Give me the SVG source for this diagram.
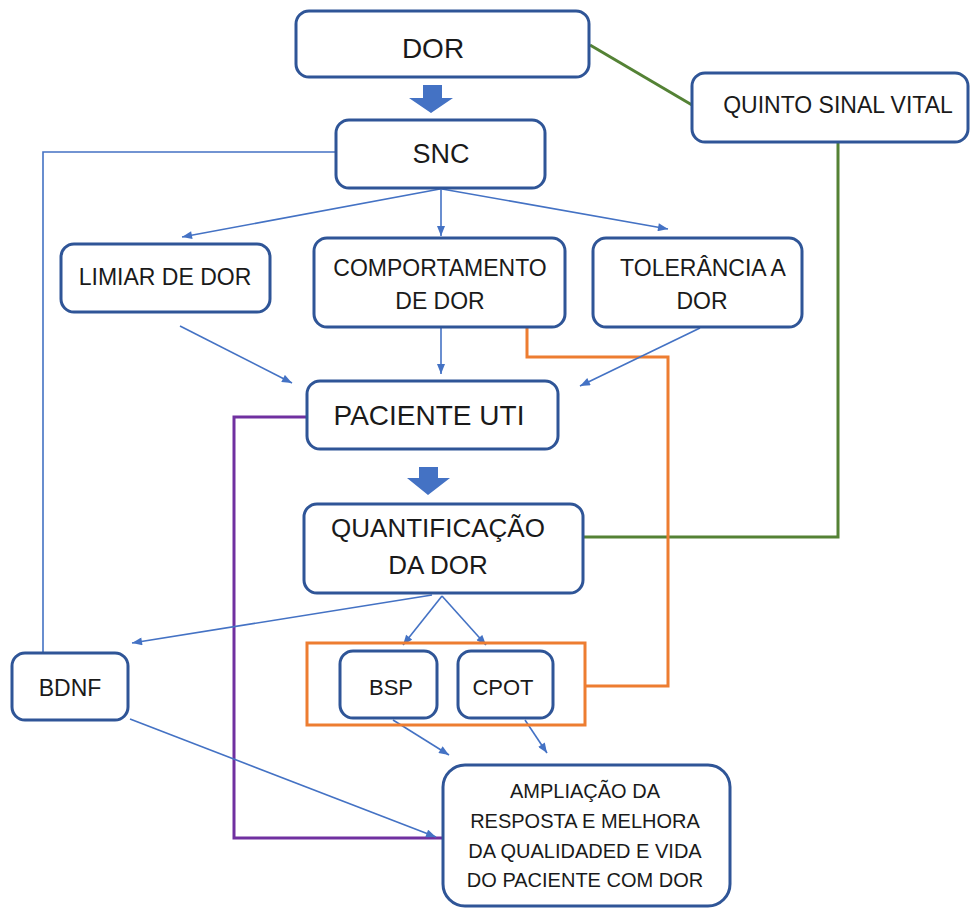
<svg xmlns="http://www.w3.org/2000/svg" width="976" height="911" viewBox="0 0 976 911">
  <style>
    .box { fill: #ffffff; stroke: #2F5597; stroke-width: 3; }
    .lbl { font-family: "Liberation Sans", Arial, sans-serif; fill: #1a1a1a; text-anchor: middle; }
    .thin { fill: none; stroke: #4472C4; stroke-width: 1.6; }
    .arr { marker-end: url(#head); }
    .orange { fill: none; stroke: #ED7D31; stroke-width: 3; }
    .purple { fill: none; stroke: #7030A0; stroke-width: 3; }
    .green { fill: none; stroke: #548235; stroke-width: 3; }
    .block { fill: #4472C4; }
  </style>
  <defs>
    <marker id="head" viewBox="0 0 10 8" refX="10" refY="4" markerWidth="11" markerHeight="8" markerUnits="userSpaceOnUse" orient="auto">
      <path d="M0,0 L10,4 L0,8 Z" fill="#4472C4"/>
    </marker>
  </defs>

  <rect width="976" height="911" fill="#ffffff"/>

  <!-- connectors -->
  <g id="connectors">
    <!-- green: DOR / quinto sinal vital / quantificação -->
    <path class="green" d="M590,45 L692,105"/>
    <path class="green" d="M838,142 L838,537 L583,537"/>
    <!-- orange: comportamento to BSP/CPOT group -->
    <path class="orange" d="M527,327 L527,357 L668,357 L668,686 L585,686"/>
    <!-- purple: paciente UTI to ampliação -->
    <path class="purple" d="M307,417 L234,417 L234,838 L443,838"/>
    <!-- SNC to BDNF -->
    <path class="thin" d="M335,152 L43,152 L43,653"/>
    <!-- SNC branches -->
    <path class="thin arr" d="M440,189 L182,237"/>
    <path class="thin arr" d="M441,189 L441,236"/>
    <path class="thin arr" d="M442,189 L668,229"/>
    <!-- into paciente UTI -->
    <path class="thin arr" d="M180,326 L292,383"/>
    <path class="thin arr" d="M441,328 L441,374"/>
    <path class="thin arr" d="M700,328 L580,386"/>
    <!-- quantificação branches -->
    <path class="thin arr" d="M432,595 L132,643"/>
    <path class="thin arr" d="M442,596 L403,645"/>
    <path class="thin arr" d="M442,596 L486,645"/>
    <!-- into ampliação -->
    <path class="thin arr" d="M130,719 L436,837"/>
    <path class="thin arr" d="M393,720 L449,755"/>
    <path class="thin arr" d="M525,720 L547,753"/>
    <!-- block arrows -->
    <path class="block" d="M423,85 L442,85 L442,98 L453,98 L431,113 L409,98 L423,98 Z"/>
    <path class="block" d="M419,467 L438,467 L438,478 L450,478 L428,495 L407,478 L419,478 Z"/>
  </g>

  <g id="dor">
    <rect class="box" x="296" y="11" width="293" height="66" rx="13"/>
    <text class="lbl" x="433" y="58" font-size="28">DOR</text>
  </g>

  <g id="quinto-sinal-vital">
    <rect class="box" x="692" y="73" width="276" height="69" rx="13"/>
    <text class="lbl" x="838" y="113" font-size="23">QUINTO SINAL VITAL</text>
  </g>

  <g id="snc">
    <rect class="box" x="336" y="120" width="209" height="68" rx="13"/>
    <text class="lbl" x="441" y="163" font-size="27">SNC</text>
  </g>

  <g id="limiar">
    <rect class="box" x="61" y="244" width="209" height="68" rx="13"/>
    <text class="lbl" x="165" y="285" font-size="23">LIMIAR DE DOR</text>
  </g>

  <g id="comportamento">
    <rect class="box" x="314" y="238" width="251" height="89" rx="13"/>
    <text class="lbl" x="440" y="276" font-size="23">COMPORTAMENTO</text>
    <text class="lbl" x="440" y="309" font-size="23">DE DOR</text>
  </g>

  <g id="tolerancia">
    <rect class="box" x="593" y="238" width="209" height="89" rx="13"/>
    <text class="lbl" x="703" y="276" font-size="23">TOLERÂNCIA A</text>
    <text class="lbl" x="702" y="309" font-size="23">DOR</text>
  </g>

  <g id="paciente-uti">
    <rect class="box" x="307" y="381" width="251" height="68" rx="13"/>
    <text class="lbl" x="429" y="425" font-size="28">PACIENTE UTI</text>
  </g>

  <g id="quantificacao">
    <rect class="box" x="304" y="504" width="279" height="89" rx="13"/>
    <text class="lbl" x="438" y="537" font-size="26">QUANTIFICAÇÃO</text>
    <text class="lbl" x="438" y="574" font-size="26">DA DOR</text>
  </g>

  <g id="bdnf">
    <rect class="box" x="12" y="653" width="116" height="67" rx="13"/>
    <text class="lbl" x="70" y="696" font-size="23">BDNF</text>
  </g>

  <g id="escalas">
    <rect class="orange" x="307" y="643" width="278" height="82"/>
    <g id="bsp">
      <rect class="box" x="340" y="651" width="97" height="67" rx="13"/>
      <text class="lbl" x="391" y="695" font-size="22">BSP</text>
    </g>
    <g id="cpot">
      <rect class="box" x="458" y="651" width="95" height="67" rx="13"/>
      <text class="lbl" x="503" y="695" font-size="22">CPOT</text>
    </g>
  </g>

  <g id="ampliacao">
    <rect class="box" x="443" y="765" width="287" height="141" rx="22"/>
    <text class="lbl" x="585" y="798" font-size="20">AMPLIAÇÃO DA</text>
    <text class="lbl" x="585" y="828" font-size="20">RESPOSTA E MELHORA</text>
    <text class="lbl" x="585" y="858" font-size="20">DA QUALIDADED E VIDA</text>
    <text class="lbl" x="585" y="887" font-size="20">DO PACIENTE COM DOR</text>
  </g>
</svg>
